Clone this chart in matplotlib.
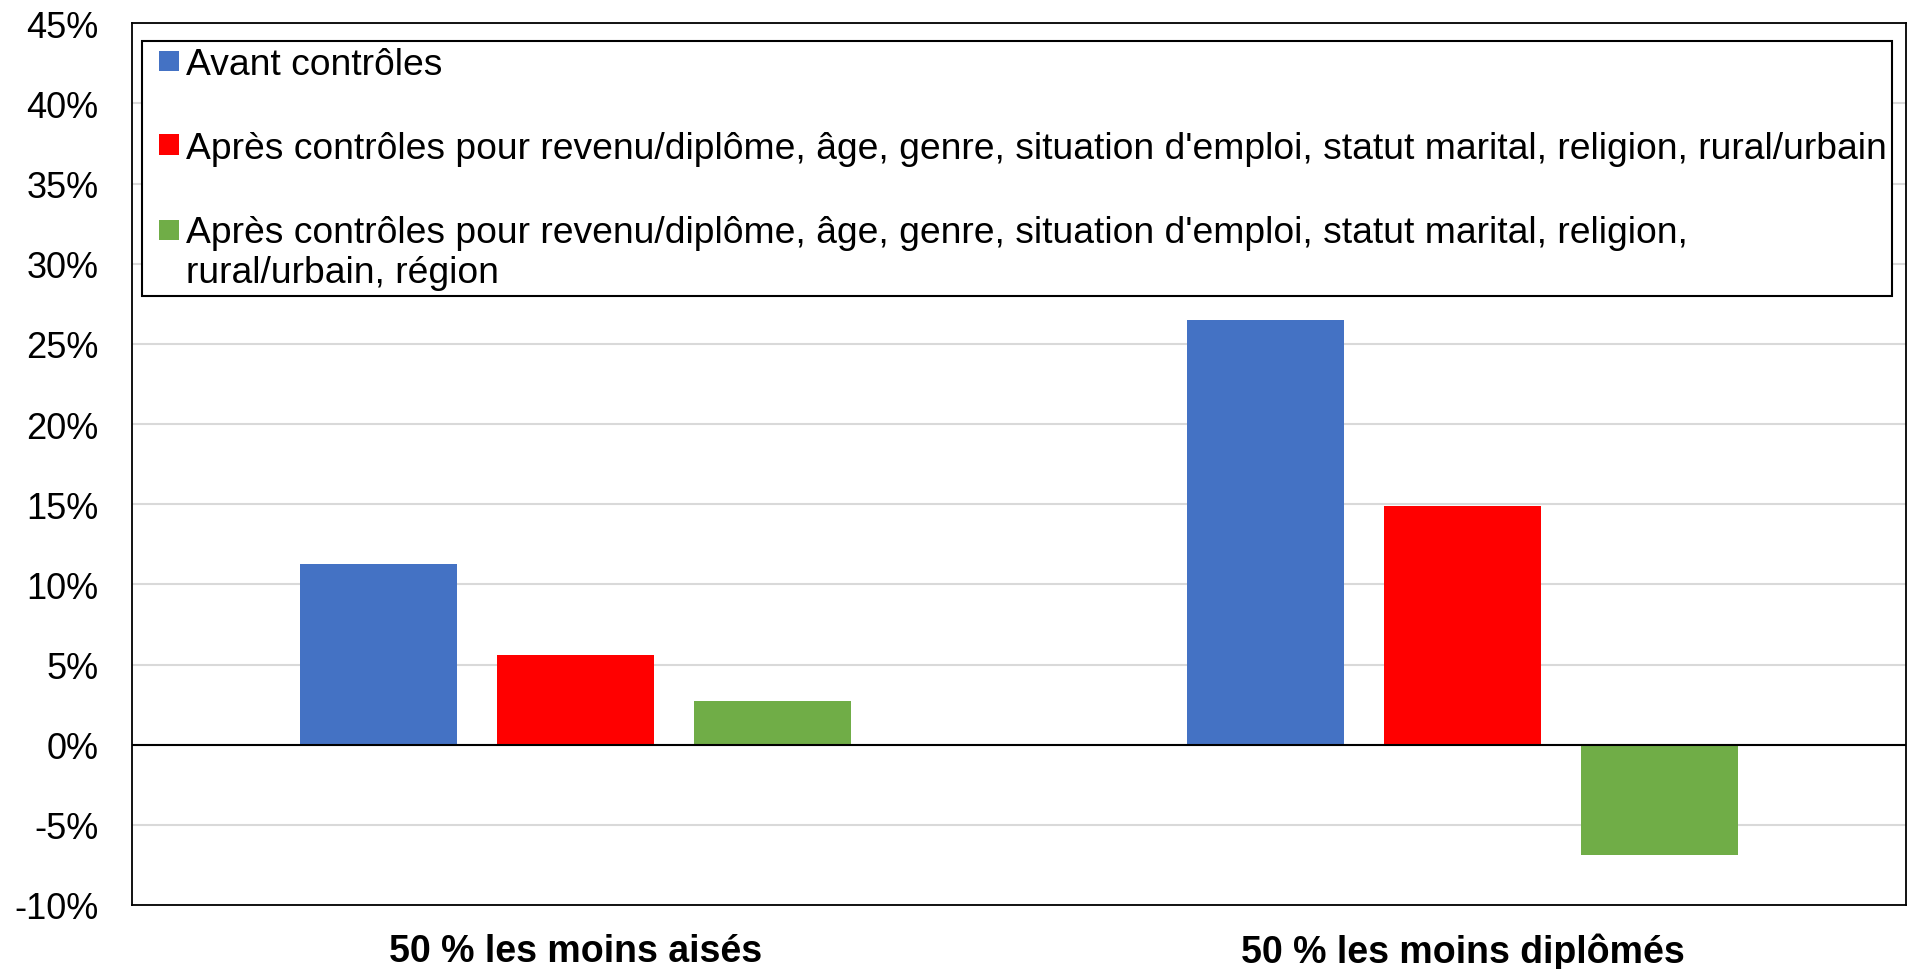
import matplotlib.pyplot as plt
from matplotlib.legend_handler import HandlerBase
from matplotlib.patches import Rectangle
import numpy as np

plt.rcParams['font.family'] = ['Liberation Sans', 'DejaVu Sans']

# - DATA -
categories = ['50 % les moins aisés', '50 % les moins diplômés']
series_labels = [
    "Avant contrôles",
    "Après contrôles pour revenu/diplôme, âge, genre, situation d'emploi, statut marital, religion, rural/urbain",
    "Après contrôles pour revenu/diplôme, âge, genre, situation d'emploi, statut marital, religion,\nrural/urbain, région",
]
avant = [11.3, 26.5]
apres = [5.6, 14.9]
apres_region = [2.7, -6.9]
yticks = [-10, -5, 0, 5, 10, 15, 20, 25, 30, 35, 40, 45]
colors = ['#4472C4', '#FF0000', '#70AD47']
# - DATA -


# small square at the right of the handle box; lifted to the first line for 2-line labels
class SquareHandler(HandlerBase):
    def __init__(self, size=14.5, lift=0.0):
        super().__init__()
        self.size = size
        self.lift = lift

    def create_artists(self, legend, orig_handle, xdescent, ydescent,
                       width, height, fontsize, trans):
        s = self.size
        c = orig_handle.patches[0].get_facecolor()
        r = Rectangle((-xdescent + width - s, -ydescent + (height - s) / 2 + self.lift * fontsize),
                      s, s, facecolor=c, edgecolor='none', transform=trans)
        return [r]


fig = plt.figure(figsize=(19.1, 9.7), dpi=100)
ax = fig.add_axes([0.0691, 0.066, 0.9288, 0.909])

x = np.arange(len(categories))
w = 0.177
step = 0.222
bars = []
for i, (vals, lab, c) in enumerate(zip([avant, apres, apres_region], series_labels, colors)):
    bars.append(ax.bar(x + (i - 1) * step, vals, w, color=c, label=lab, zorder=3))

ax.axhline(0, color='black', lw=1.5, zorder=4)
ax.set_xlim(-0.5, 1.5)
ax.set_ylim(-10, 45)
ax.set_yticks(yticks)
ax.set_yticklabels([f'{v}%' for v in yticks])
ax.set_xticks(x)
ax.set_xticklabels(categories, fontweight='bold', fontsize=27)
ax.tick_params(axis='both', length=0)
ax.tick_params(axis='y', pad=24, labelsize=26)
ax.tick_params(axis='x', pad=20)
ax.yaxis.grid(True, color='#d9d9d9', lw=1.5, zorder=0)
ax.set_axisbelow(True)
for s in ax.spines.values():
    s.set_color('black')
    s.set_linewidth(1.3)

leg = ax.legend(loc='upper left', bbox_to_anchor=(0.0056, 0.695, 0.9865, 0.2846),
                mode='expand', borderaxespad=0, fontsize=26.85,
                handlelength=0.85, handleheight=0.55, handletextpad=0.17,
                labelspacing=1.31, borderpad=0.15, fancybox=False, framealpha=1,
                handler_map={bars[0]: SquareHandler(),
                             bars[1]: SquareHandler(),
                             bars[2]: SquareHandler(lift=0.6)})
leg.get_frame().set_edgecolor('black')
leg.get_frame().set_linewidth(1.5)

fig.savefig('out.png', dpi=100)
